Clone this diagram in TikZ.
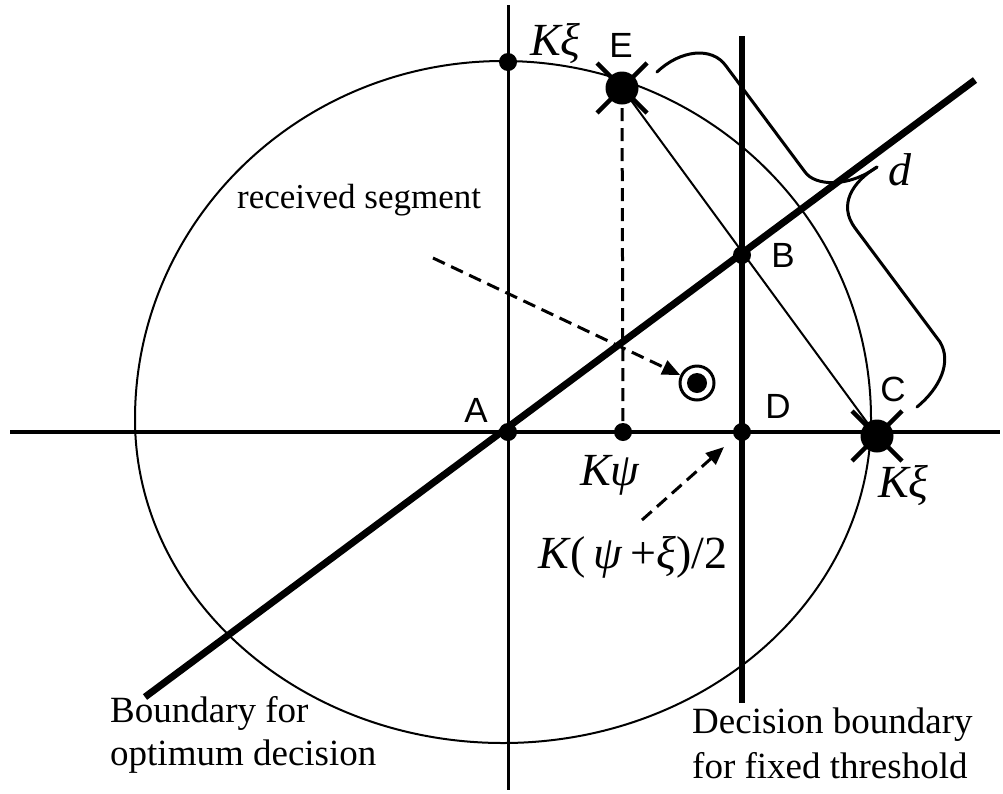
\documentclass[tikz,border=0pt]{standalone}
\usepackage{fontspec}
\setmainfont{Liberation Serif}
\newfontfamily\arialf{Liberation Sans}
\usetikzlibrary{arrows.meta,calc}
\begin{document}
\begin{tikzpicture}[x=1pt,y=-1pt,
  dot/.style={circle,fill=black,inner sep=0pt,minimum size=18pt,outer sep=0pt},
  bigdot/.style={circle,fill=black,inner sep=0pt,minimum size=33pt,outer sep=0pt},
  thinline/.style={line width=2pt},
  axisline/.style={line width=3.5pt},
  dashline/.style={line width=3pt,dash pattern=on 13pt off 7pt},
  arr/.style={dashline,-{Triangle[length=18pt,width=15pt]}},
  txt/.style={anchor=base west,inner sep=0pt,font=\fontsize{37}{44}\selectfont},
  mth/.style={anchor=base west,inner sep=0pt,font=\fontsize{46}{50}\selectfont\itshape},
  lab/.style={inner sep=0pt,font=\arialf\fontsize{35}{40}\selectfont},
  bracestroke/.style={line width=3pt,line cap=round},
  crossarm/.style={line width=4.5pt}
]
\useasboundingbox (0,0) rectangle (1003,793);
% ellipse
\draw[thinline] (871,419) arc[start angle=0,end angle=-180,x radius=368,y radius=358]
  arc[start angle=180,end angle=0,x radius=368,y radius=324];
% axes and boundaries
\coordinate (xl) at (10,432); \coordinate (xr) at (1000,432);
\coordinate (yt) at (508,5); \coordinate (yb) at (508,790);
\coordinate (vt) at (742,36); \coordinate (vb) at (742,703);
\coordinate (dl) at (145,697); \coordinate (dr) at (975,80);
\draw[axisline] (xl) -- (xr);
\draw[line width=3pt] (yt) -- (yb);
\draw[line width=6.5pt] (vt) -- (vb);
\draw[line width=7pt] (dl) -- (dr);
% dots
\node[dot] (K) at (508,62) {};
\node[dot] (A) at (508,432) {};
\node[dot] (P) at (623,432) {};
\node[dot] (D) at (742,432) {};
\node[dot] (B) at (742,255) {};
\node[bigdot] (E) at (622,88) {};
\node[bigdot] (C) at (877,436) {};
\foreach \n in {E,C}{
  \draw[crossarm] ($(\n)+(-25,-25)$) -- ($(\n)+(25,25)$);
  \draw[crossarm] ($(\n)+(-25,25)$) -- ($(\n)+(25,-25)$);
}
\draw[thinline] (E.center) -- (C.center);
\draw[dashline] (E.center) -- (P.center);
% target
\node[circle,draw,line width=3pt,minimum size=34pt,inner sep=0pt] (T) at (697,383) {};
\node[circle,fill=black,minimum size=20pt,inner sep=0pt] (Ti) at (697,383) {};
% arrows
\coordinate (s1) at (433,258);
\draw[arr] (s1) -- (T);
\coordinate (s2) at (642,520); \coordinate (t2) at (724,447);
\draw[arr] (s2) -- (t2);
% brace
\coordinate (dtip) at (877,167);
\draw[bracestroke] (657,72) .. controls (680,50) and (712,46) .. (726,66) -- (805,172) .. controls (815,186) and (848,188) .. (dtip);
\draw[bracestroke] (dtip) .. controls (852,182) and (838,205) .. (855,228) -- (940,342) .. controls (952,362) and (940,388) .. (917,407);
% labels
\node[lab] at (476,410) {A};
\node[lab] at (783,255) {B};
\node[lab] at (893,389) {C};
\node[lab] at (778,406) {D};
\node[lab] at (621,45) {E};
\node[mth] at (530,55) {Kξ};
\node[mth] at (580,485) {Kψ};
\node[mth] at (878,497) {Kξ};
\node[mth] at (888,185) {d};
\node[anchor=base west,inner sep=0pt,font=\fontsize{46}{50}\selectfont] at (538,568) {\textit{K}(\,\textit{ψ}\,+\textit{ξ})/2};
\node[txt,font=\fontsize{35}{42}\selectfont] at (237,208) {received segment};
\node[txt] at (110,722) {Boundary for};
\node[txt] at (110,765) {optimum decision};
\node[txt] at (692,733) {Decision boundary};
\node[txt] at (692,778) {for fixed threshold};
\end{tikzpicture}
\end{document}
